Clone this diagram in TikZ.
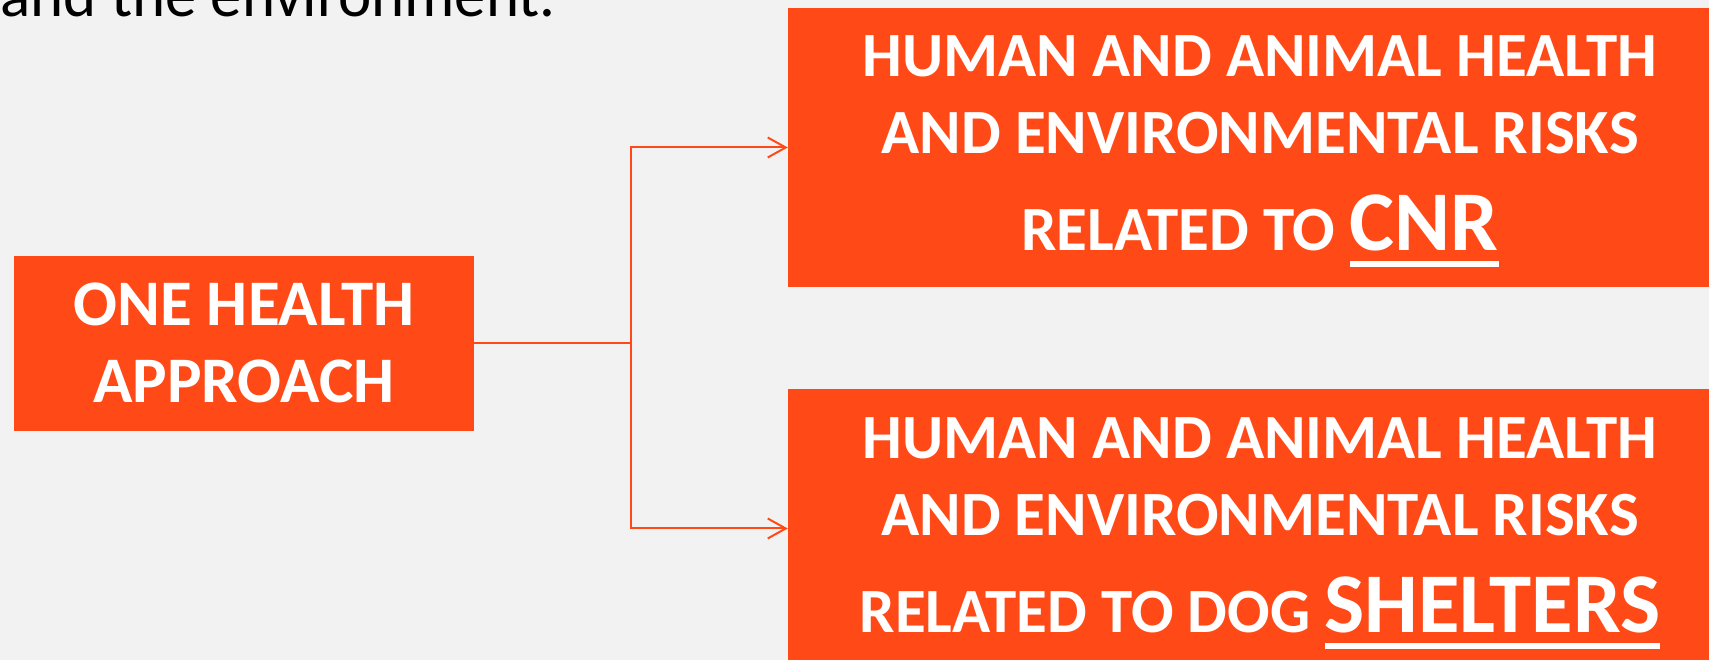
\documentclass[tikz,border=0pt]{standalone}
\usepackage{fontspec}
\setmainfont{Carlito}
\usepackage{tikz}
\usetikzlibrary{arrows.meta}
\definecolor{ohorange}{HTML}{FF4A17}
\definecolor{slidebg}{HTML}{F2F2F2}
\tikzstyle{orangebox} = [rectangle, fill=ohorange, text=white, inner sep=0pt, align=center, font=\bfseries\fontsize{63}{77}\selectfont]
\tikzstyle{arrow} = [draw=ohorange, line width=2pt, -{Straight Barb[length=18pt,width=20pt]}]
\newcommand{\bigword}[1]{\vtop{\hbox{\fontsize{85}{85}\selectfont #1}\kern9pt\hrule height 6pt}}

\begin{document}
\begin{tikzpicture}[x=1pt, y=1pt] % 1pt = 1px of the slide
\fill[slidebg] (0,0) rectangle (1709,660);
\useasboundingbox (0,0) rectangle (1709,660);
\node (intro) [anchor=base east, inner sep=0pt, font=\fontsize{63}{77}\selectfont] at (556,643) {and the environment.}; % cut by the top edge
\node (onehealth) [orangebox, minimum width=460pt, text height=147pt, text depth=28pt, font=\bfseries\fontsize{65}{77}\selectfont] at (244,316.5) {ONE HEALTH\\APPROACH};
\node (cnr) [orangebox, minimum width=944pt, text height=243pt, text depth=36pt] at (1260,512.5) {HUMAN AND ANIMAL HEALTH\\AND ENVIRONMENTAL RISKS\\[20pt]RELATED TO \bigword{CNR}};
\node (shelters) [orangebox, minimum width=944pt, text height=244pt, text depth=35pt] at (1260,131.5) {HUMAN AND ANIMAL HEALTH\\AND ENVIRONMENTAL RISKS\\[20pt]RELATED TO DOG \bigword{SHELTERS}}; % runs off the right and bottom edge
\coordinate (fork) at (631,316.5);
\draw [arrow] (onehealth.east) -- (fork) |- (cnr.west);
\draw [arrow] (fork) |- (shelters.west);
\end{tikzpicture}
\end{document}
